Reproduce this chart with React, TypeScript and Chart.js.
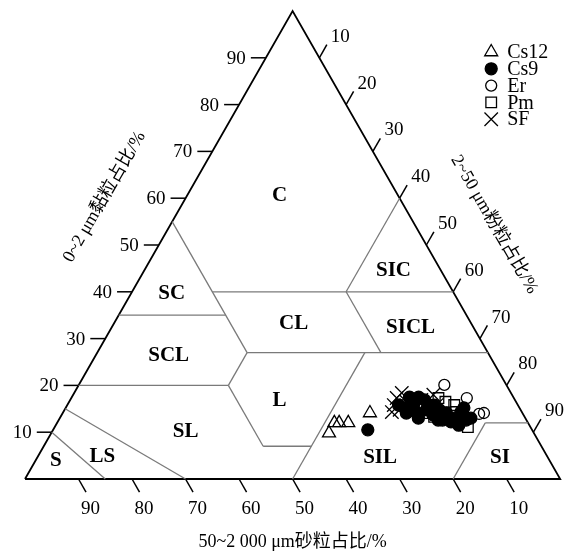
import React, { useEffect, useRef } from 'react';
import { Chart, registerables } from 'chart.js';
import { drawPoint } from 'chart.js/helpers';

Chart.register(...registerables);

const SQ = Math.sqrt(3) / 2;
const SERIF = '"Liberation Serif", "Times New Roman", "Noto Sans CJK SC", serif';

// tick values (percent)
const CLAY_TICKS = [10, 20, 30, 40, 50, 60, 70, 80, 90];
const SILT_TICKS = [10, 20, 30, 40, 50, 60, 70, 80, 90];
const SAND_TICKS = [90, 80, 70, 60, 50, 40, 30, 20, 10];

// axis titles
const TITLE_CLAY = '0~2 μm黏粒占比/%';
const TITLE_SILT = '2~50 μm粉粒占比/%';
const TITLE_SAND = '50~2 000 μm砂粒占比/%';

// series (clay %, silt %) — sand = 100 - clay - silt
const SERIES_NAMES = ['Cs12', 'Cs9', 'Er', 'Pm', 'SF'];
const cs12Clay = [9.8, 12.0, 12.0, 12.0, 14.1];
const cs12Silt = [51.9, 51.8, 52.7, 54.4, 57.4];
const cs9Clay = [10.5, 17.5, 17.5, 15.8, 15.2, 14.3, 13.0, 14.1, 14.8, 15.8, 15.8, 14.8, 14.1, 13.0, 14.3, 15.2, 11.5, 12.2, 12.6, 13.0, 12.6, 15.8, 16.9, 13.7, 12.6];
const cs9Silt = [58.8, 63.1, 64.8, 64.7, 63.3, 65.9, 67.0, 64.2, 67.6, 67.7, 68.6, 70.0, 71.7, 73.7, 74.3, 74.4, 75.3, 73.5, 71.7, 76.8, 70.9, 61.9, 66.2, 69.4, 76.1];
const erClay = [20.1, 17.3, 13.9, 14.1, 15.8];
const erSilt = [68.3, 73.9, 77.9, 78.7, 62.5];
const pmClay = [17.3, 15.8, 13.3, 11.1, 14.3, 14.1, 16.5];
const pmSilt = [68.6, 72.3, 69.8, 77.2, 73.4, 68.5, 70.3];
const sfClay = [18.4, 15.8, 16.5, 16.9, 14.3, 17.3, 18.0, 15.8, 14.8];
const sfSilt = [61.2, 61.0, 63.0, 65.6, 61.4, 60.8, 67.3, 69.0, 62.6];

// texture class boundaries as [clay, silt] pairs
const BOUNDARIES: number[][][] = [
  [[10, 0], [0, 15]],
  [[15, 0], [0, 30]],
  [[20, 0], [20, 28]],
  [[20, 28], [7, 41]],
  [[7, 41], [7, 50]],
  [[0, 50], [27, 50]],
  [[27, 28], [27, 73]],
  [[20, 28], [27, 28]],
  [[27, 28], [55, 0]],
  [[35, 0], [35, 20]],
  [[40, 15], [40, 60]],
  [[27, 53], [40, 40]],
  [[40, 40], [60, 40]],
  [[0, 80], [12, 80]],
  [[12, 80], [12, 88]],
];
const OUTLINE: number[][] = [[0, 0], [0, 100], [100, 0], [0, 0]];

// class names and their label anchor (clay, silt)
const CLASS_NAMES = ['C', 'SIC', 'SC', 'CL', 'SICL', 'SCL', 'L', 'SL', 'SIL', 'LS', 'S', 'SI'];
const CLASS_CLAY = [60.7, 44.7, 39.8, 33.4, 32.5, 26.5, 16.9, 10.3, 4.7, 4.9, 4.1, 4.7];
const CLASS_SILT = [17.2, 46.5, 7.5, 33.5, 55.8, 13.6, 39.1, 24.85, 64.0, 12.0, 3.7, 86.4];

const toXY = (clay: number, silt: number) => ({ x: silt + clay / 2, y: clay * SQ });
const TICK_LEN = 2.8;

const STYLES = [
  { pointStyle: 'triangle', radius: 7.5, bg: 'rgba(255,255,255,0)' },
  { pointStyle: 'circle', radius: 6, bg: '#000' },
  { pointStyle: 'circle', radius: 5.5, bg: 'rgba(255,255,255,0)' },
  { pointStyle: 'rect', radius: 7.5, bg: 'rgba(255,255,255,0)' },
  { pointStyle: 'crossRot', radius: 9.5, bg: 'rgba(255,255,255,0)' },
];

const textPlugin = {
  id: 'ternaryText',
  afterDatasetsDraw(chart: any) {
    const ctx = chart.ctx as CanvasRenderingContext2D;
    const xs = chart.scales.x;
    const ys = chart.scales.y;
    const px = (clay: number, silt: number) => {
      const p = toXY(clay, silt);
      return [xs.getPixelForValue(p.x), ys.getPixelForValue(p.y)];
    };
    ctx.save();
    ctx.fillStyle = '#000';
    ctx.textBaseline = 'middle';
    ctx.font = `19px ${SERIF}`;
    // clay tick labels (left)
    ctx.textAlign = 'right';
    CLAY_TICKS.forEach((t) => {
      const [x, y] = px(t, 0);
      ctx.fillText(String(t), x - 20, y + 1);
    });
    // sand tick labels (bottom)
    ctx.textAlign = 'center';
    SAND_TICKS.forEach((t) => {
      const [x, y] = px(0, 100 - t);
      ctx.fillText(String(t), x + 12, y + 30);
    });
    // silt tick labels (right)
    SILT_TICKS.forEach((t) => {
      const [x, y] = px(100 - t, t);
      ctx.fillText(String(t), x + 21, y - 21);
    });
    // axis titles
    ctx.font = `18px ${SERIF}`;
    {
      const [x, y] = px(0, 50);
      ctx.fillText(TITLE_SAND, x, y + 63);
    }
    {
      const [x, y] = px(52.7, 0);
      ctx.save();
      ctx.translate(x - 0.866 * 71, y - 0.5 * 71);
      ctx.rotate(-Math.PI / 3);
      ctx.fillText(TITLE_CLAY, 0, 0);
      ctx.restore();
    }
    {
      const [x, y] = px(47, 53);
      ctx.save();
      ctx.translate(x + 0.866 * 69, y - 0.5 * 69);
      ctx.rotate(Math.PI / 3);
      ctx.fillText(TITLE_SILT, 0, 0);
      ctx.restore();
    }
    // class labels
    ctx.font = `bold 21px ${SERIF}`;
    CLASS_NAMES.forEach((n, i) => {
      const [x, y] = px(CLASS_CLAY[i], CLASS_SILT[i]);
      ctx.fillText(n, x, y + 1);
    });
    // legend
    const lx = chart.chartArea.right - 69;
    ctx.font = `20px ${SERIF}`;
    ctx.textAlign = 'left';
    SERIES_NAMES.forEach((n, i) => {
      const ly = 52 + i * 16.8;
      const st = STYLES[i];
      ctx.fillStyle = st.bg;
      ctx.strokeStyle = '#000';
      ctx.lineWidth = 1.3;
      drawPoint(ctx, { pointStyle: st.pointStyle as any, radius: st.radius, rotation: 0, borderWidth: 1.3 }, lx, ly);
      ctx.fillStyle = '#000';
      ctx.fillText(n, lx + 16, ly + 1);
    });
    ctx.restore();
  },
};

function lineDataset(points: number[][], color: string, width: number) {
  return {
    type: 'scatter' as const,
    data: points.map(([c, s]) => toXY(c, s)),
    showLine: true,
    borderColor: color,
    borderWidth: width,
    pointRadius: 0,
    fill: false,
    clip: false as any,
    order: 10,
  };
}

export default function App() {
  const ref = useRef<HTMLCanvasElement>(null);
  useEffect(() => {
    if (!ref.current) return;
    const seriesClay = [cs12Clay, cs9Clay, erClay, pmClay, sfClay];
    const seriesSilt = [cs12Silt, cs9Silt, erSilt, pmSilt, sfSilt];
    const datasets: any[] = [];
    SERIES_NAMES.forEach((name, i) => {
      const st = STYLES[i];
      datasets.push({
        label: name,
        data: seriesClay[i].map((c, j) => toXY(c, seriesSilt[i][j])),
        pointStyle: st.pointStyle,
        pointRadius: st.radius,
        pointBackgroundColor: st.bg,
        pointBorderColor: '#000',
        pointBorderWidth: 1.3,
        showLine: false,
        order: 0,
      });
    });
    BOUNDARIES.forEach((seg) => datasets.push(lineDataset(seg, '#7a7a7a', 1.3)));
    datasets.push(lineDataset(OUTLINE, '#000', 1.8));
    CLAY_TICKS.forEach((t) => datasets.push(lineDataset([[t, 0], [t, -TICK_LEN]], '#000', 1.5)));
    SAND_TICKS.forEach((t) => datasets.push(lineDataset([[0, 100 - t], [-TICK_LEN, 100 - t + TICK_LEN]], '#000', 1.5)));
    SILT_TICKS.forEach((t) => datasets.push(lineDataset([[100 - t + TICK_LEN, t], [100 - t, t]], '#000', 1.5)));

    const chart = new Chart(ref.current, {
      type: 'scatter',
      data: { datasets },
      options: {
        animation: false,
        responsive: false,
        maintainAspectRatio: false,
        layout: { padding: { left: 25, right: 6, top: 11, bottom: 75 } },
        scales: {
          x: { type: 'linear', min: 0, max: 100, display: false },
          y: { type: 'linear', min: 0, max: 100 * SQ, display: false },
        },
        plugins: { legend: { display: false }, tooltip: { enabled: false } },
      },
      plugins: [textPlugin],
    });
    return () => chart.destroy();
  }, []);
  return (
    <div style={{ position: 'fixed', left: 0, top: 0, width: 571, height: 554, background: '#fff' }}>
      <canvas ref={ref} width={571} height={554} style={{ display: 'block' }} />
    </div>
  );
}
